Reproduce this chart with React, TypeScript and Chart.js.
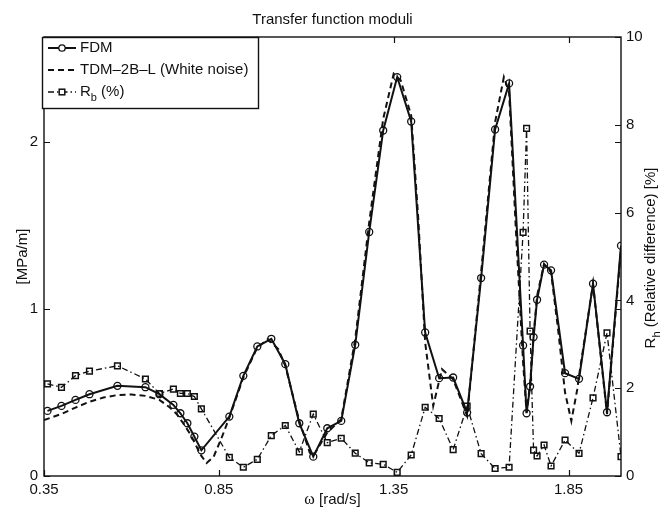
import React, { useEffect, useRef } from "react";
import Chart from "chart.js/auto";

// ---- Data ----
const omega = [
  0.36, 0.40, 0.44, 0.48, 0.56, 0.64, 0.68, 0.72, 0.74, 0.76, 0.78, 0.80,
  0.88, 0.92, 0.96, 1.00, 1.04, 1.08, 1.12, 1.16, 1.20, 1.24, 1.28, 1.32,
  1.36, 1.40, 1.44, 1.48, 1.52, 1.56, 1.60, 1.64, 1.68, 1.72, 1.73, 1.74,
  1.75, 1.76, 1.78, 1.80, 1.84, 1.88, 1.92, 1.96, 2.00,
];
const fdm = [
  0.39, 0.42, 0.456, 0.49, 0.54, 0.532, 0.49, 0.426, 0.376, 0.316, 0.236, 0.154,
  0.356, 0.60, 0.776, 0.822, 0.67, 0.316, 0.116, 0.286, 0.33, 0.786, 1.462, 2.07,
  2.39, 2.124, 0.86, 0.586, 0.59, 0.38, 1.186, 2.076, 2.352, 0.782, 0.376, 0.536,
  0.832, 1.056, 1.266, 1.232, 0.616, 0.582, 1.152, 0.382, 1.38,
];
const rb = [
  2.10, 2.02, 2.285, 2.39, 2.51, 2.21, 1.88, 1.98, 1.88, 1.88, 1.81, 1.53,
  0.425, 0.20, 0.38, 0.92, 1.15, 0.55, 1.41, 0.76, 0.86, 0.52, 0.30, 0.266,
  0.084, 0.478, 1.565, 1.31, 0.60, 1.59, 0.51, 0.17, 0.20, 5.55, 7.92, 3.30,
  0.59, 0.455, 0.706, 0.228, 0.82, 0.516, 1.78, 3.26, 0.44,
];
const tdmOmega = [
  0.35, 0.40, 0.44, 0.48, 0.52, 0.56, 0.60, 0.64, 0.68, 0.71, 0.73, 0.75,
  0.77, 0.79, 0.80, 0.815, 0.835, 0.86, 0.88, 0.92, 0.96, 0.99, 1.02, 1.04,
  1.08, 1.11, 1.12, 1.16, 1.20, 1.24, 1.28, 1.32, 1.35, 1.37, 1.40, 1.42,
  1.44, 1.463, 1.488, 1.52, 1.56, 1.60, 1.64, 1.665, 1.68, 1.70, 1.72, 1.73,
  1.74, 1.75, 1.76, 1.78, 1.80, 1.82, 1.84, 1.858, 1.875, 1.88, 1.92, 1.96, 2.00,
];
const tdm = [
  0.335, 0.372, 0.41, 0.445, 0.47, 0.485, 0.488, 0.48, 0.456, 0.41, 0.37, 0.31,
  0.245, 0.16, 0.12, 0.078, 0.115, 0.24, 0.35, 0.59, 0.77, 0.82, 0.76, 0.66,
  0.33, 0.14, 0.12, 0.26, 0.34, 0.82, 1.52, 2.14, 2.41, 2.37, 2.16, 1.55,
  0.80, 0.42, 0.64, 0.58, 0.36, 1.22, 2.12, 2.39, 2.30, 1.45, 0.68, 0.38,
  0.55, 0.84, 1.08, 1.27, 1.22, 0.88, 0.50, 0.33, 0.52, 0.60, 1.15, 0.37, 1.36,
];
const xTicks = [0.35, 0.85, 1.35, 1.85];
const leftTicks = [0, 1, 2];
const rightTicks = [0, 2, 4, 6, 8, 10];

const FONT = '"Liberation Sans", Arial, Helvetica, sans-serif';
const SERIF = '"Liberation Serif", "DejaVu Serif", serif';
const INK = "#111";

export default function App() {
  const ref = useRef<HTMLCanvasElement>(null);

  useEffect(() => {
    const canvas = ref.current!;

    const decor = {
      id: "decor",
      afterDraw(chart: any) {
        const { ctx, chartArea: a, scales } = chart;
        const xs = scales.x, yl = scales.y, yr = scales.y1;
        ctx.save();
        ctx.strokeStyle = INK;
        ctx.fillStyle = INK;
        ctx.lineWidth = 1.4;
        ctx.setLineDash([]);
        // frame
        ctx.strokeRect(a.left, a.top, a.right - a.left, a.bottom - a.top);
        const tl = 6;
        ctx.lineWidth = 1.2;
        ctx.beginPath();
        xTicks.forEach((v) => {
          const px = Math.round(xs.getPixelForValue(v)) + 0.5;
          ctx.moveTo(px, a.bottom); ctx.lineTo(px, a.bottom - tl);
          ctx.moveTo(px, a.top); ctx.lineTo(px, a.top + tl);
        });
        leftTicks.forEach((v) => {
          const py = Math.round(yl.getPixelForValue(v)) + 0.5;
          ctx.moveTo(a.left, py); ctx.lineTo(a.left + tl, py);
          ctx.moveTo(a.right, py); ctx.lineTo(a.right - tl, py);
        });
        rightTicks.forEach((v) => {
          const py = Math.round(yr.getPixelForValue(v)) + 0.5;
          ctx.moveTo(a.right, py); ctx.lineTo(a.right - tl, py);
        });
        ctx.stroke();

        // title
        ctx.textAlign = "center";
        ctx.textBaseline = "middle";
        ctx.font = `15px ${FONT}`;
        const cx = (a.left + a.right) / 2;
        ctx.fillText("Transfer function moduli", cx, 20);

        // x title
        ctx.font = `16px ${SERIF}`;
        const w1 = ctx.measureText("ω").width;
        ctx.font = `15px ${FONT}`;
        const w2 = ctx.measureText(" [rad/s]").width;
        const sx = cx - (w1 + w2) / 2;
        ctx.textAlign = "left";
        ctx.font = `16px ${SERIF}`;
        ctx.fillText("ω", sx, 500);
        ctx.font = `15px ${FONT}`;
        ctx.fillText(" [rad/s]", sx + w1, 500);

        // left title
        ctx.save();
        ctx.translate(23, (a.top + a.bottom) / 2);
        ctx.rotate(-Math.PI / 2);
        ctx.textAlign = "center";
        ctx.font = `15px ${FONT}`;
        ctx.fillText("[MPa/m]", 0, 0);
        ctx.restore();

        // right title
        ctx.save();
        ctx.translate(651, 258);
        ctx.rotate(-Math.PI / 2);
        ctx.font = `15px ${FONT}`;
        const tR = "R", tRest = " (Relative difference) [%]";
        const wR = ctx.measureText(tR).width;
        const wRest = ctx.measureText(tRest).width;
        ctx.font = `11px ${FONT}`;
        const wh = ctx.measureText("h").width;
        const total = wR + wh + wRest;
        const tx = -total / 2;
        ctx.textAlign = "left";
        ctx.font = `15px ${FONT}`;
        ctx.fillText(tR, tx, 0);
        ctx.font = `11px ${FONT}`;
        ctx.fillText("h", tx + wR, 6);
        ctx.font = `15px ${FONT}`;
        ctx.fillText(tRest, tx + wR + wh, 0);
        ctx.restore();

        // legend
        const lx = 42, ly = 37, lw = 216, lh = 71;
        ctx.fillStyle = "#fff";
        ctx.fillRect(lx, ly, lw, lh);
        ctx.strokeStyle = INK;
        ctx.lineWidth = 1.4;
        ctx.strokeRect(lx + 0.5, ly + 0.5, lw, lh);
        ctx.fillStyle = INK;
        const rows = [48, 70, 92];
        const x0 = 48, x1 = 76, mx = 62;
        // FDM
        ctx.lineWidth = 2;
        ctx.beginPath(); ctx.moveTo(x0, rows[0]); ctx.lineTo(x1, rows[0]); ctx.stroke();
        ctx.lineWidth = 1.3;
        ctx.beginPath(); ctx.arc(mx, rows[0], 3.2, 0, Math.PI * 2); ctx.fillStyle = "#fff"; ctx.fill(); ctx.stroke();
        // TDM
        ctx.lineWidth = 2;
        ctx.setLineDash([6, 4]);
        ctx.beginPath(); ctx.moveTo(x0, rows[1]); ctx.lineTo(x1, rows[1]); ctx.stroke();
        // Rb
        ctx.lineWidth = 1.3;
        ctx.setLineDash([6, 3, 1.5, 3]);
        ctx.beginPath(); ctx.moveTo(x0, rows[2]); ctx.lineTo(x1, rows[2]); ctx.stroke();
        ctx.setLineDash([]);
        ctx.lineWidth = 1.5;
        ctx.fillStyle = "#fff";
        ctx.fillRect(mx - 2.8, rows[2] - 2.8, 5.6, 5.6);
        ctx.strokeRect(mx - 2.8, rows[2] - 2.8, 5.6, 5.6);
        ctx.fillStyle = INK;
        ctx.textAlign = "left";
        ctx.font = `15px ${FONT}`;
        ctx.fillText("FDM", 80, rows[0]);
        ctx.fillText("TDM\u20132B\u2013L (White noise)", 80, rows[1]);
        ctx.fillText("R", 80, rows[2]);
        const wr = ctx.measureText("R").width;
        ctx.font = `11px ${FONT}`;
        ctx.fillText("b", 80 + wr, rows[2] + 6);
        const wb = ctx.measureText("b").width;
        ctx.font = `15px ${FONT}`;
        ctx.fillText(" (%)", 80 + wr + wb, rows[2]);
        ctx.restore();
      },
    };

    const chart = new Chart(canvas, {
      type: "line",
      data: {
        datasets: [
          {
            label: "FDM",
            data: omega.map((x, i) => ({ x, y: fdm[i] })),
            yAxisID: "y",
            borderColor: INK,
            borderWidth: 2,
            pointStyle: "circle",
            pointRadius: 3.5,
            pointBorderWidth: 1.3,
            pointBorderColor: INK,
            pointBackgroundColor: "rgba(255,255,255,0)",
            tension: 0,
          },
          {
            label: "TDM-2B-L (White noise)",
            data: tdmOmega.map((x, i) => ({ x, y: tdm[i] })),
            yAxisID: "y",
            borderColor: INK,
            borderWidth: 2,
            borderDash: [6, 4],
            pointRadius: 0,
            tension: 0,
          },
          {
            label: "Rb (%)",
            data: omega.map((x, i) => ({ x, y: rb[i] })),
            yAxisID: "y1",
            borderColor: INK,
            borderWidth: 1.3,
            borderDash: [6, 3, 1.5, 3],
            pointStyle: "rect",
            pointRadius: 4,
            pointBorderWidth: 1.5,
            pointBorderColor: INK,
            pointBackgroundColor: "rgba(255,255,255,0)",
            tension: 0,
          },
        ],
      },
      options: {
        responsive: false,
        animation: false,
        devicePixelRatio: 1,
        layout: { padding: { top: 37, left: 0, right: 0, bottom: 0 } },
        plugins: { legend: { display: false }, tooltip: { enabled: false }, title: { display: false } },
        scales: {
          x: {
            type: "linear",
            min: 0.35,
            max: 2.0,
            afterBuildTicks: (s: any) => { s.ticks = xTicks.map((v) => ({ value: v })); },
            afterFit: (s: any) => { s.height = 34; },
            grid: { display: false, drawTicks: false },
            border: { display: false },
            ticks: {
              autoSkip: false,
              maxRotation: 0,
              padding: 5,
              color: INK,
              font: { family: FONT, size: 15 },
              callback: (v: any) => Number(v).toFixed(2),
            },
          },
          y: {
            position: "left",
            min: 0,
            max: 2.63,
            afterBuildTicks: (s: any) => { s.ticks = leftTicks.map((v) => ({ value: v })); },
            afterFit: (s: any) => { s.width = 44; },
            grid: { display: false, drawTicks: false },
            border: { display: false },
            ticks: {
              padding: 6,
              color: INK,
              font: { family: FONT, size: 15 },
              callback: (v: any) => String(v),
            },
          },
          y1: {
            position: "right",
            min: 0,
            max: 10,
            afterBuildTicks: (s: any) => { s.ticks = rightTicks.map((v) => ({ value: v })); },
            afterFit: (s: any) => { s.width = 42; },
            grid: { display: false, drawTicks: false },
            border: { display: false },
            ticks: {
              padding: 5,
              color: INK,
              font: { family: FONT, size: 15 },
              callback: (v: any) => String(v),
            },
          },
        },
      },
      plugins: [decor],
    } as any);
    return () => chart.destroy();
  }, []);

  return (
    <div style={{ position: "absolute", left: 0, top: 0, width: 663, height: 510, background: "#fff" }}>
      <canvas ref={ref} width={663} height={510} style={{ width: 663, height: 510, display: "block" }} />
    </div>
  );
}
